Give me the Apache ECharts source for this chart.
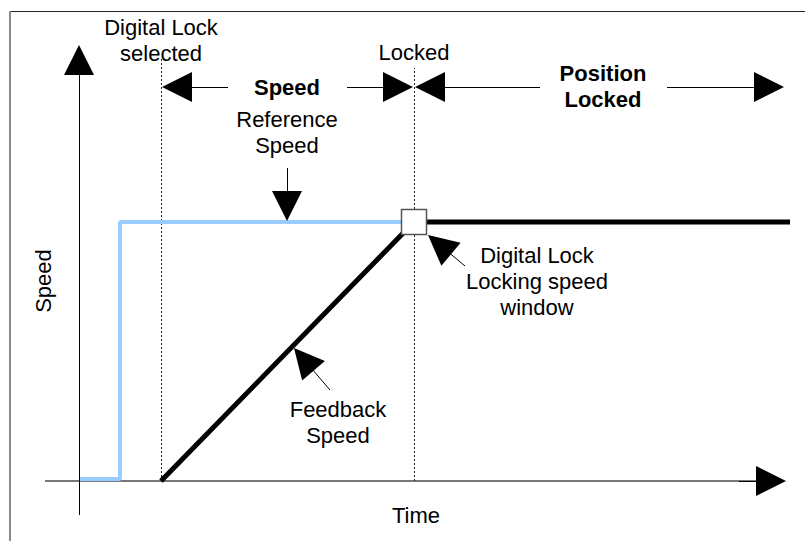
<!DOCTYPE html>
<html>
<head>
<meta charset="utf-8">
<script src="https://cdn.jsdelivr.net/npm/echarts@6/dist/echarts.min.js"></script>
<style>
html,body{margin:0;padding:0;background:#fff;}
#main{width:805px;height:541px;}
</style>
</head>
<body>
<div id="main"></div>
<script>
// units: time / speed measured from the axis origin
var refTime = [0, 41, 41, 335];
var refSpeed = [2, 2, 259, 259];
var fbTime = [82, 335, 711];
var fbSpeed = [0, 259, 259];
var lockPoint = [335, 259];
var eventTimes = [82, 335];      // digital lock selected, locked
var eventTops = [423, 413];

var notes = [
    {text: 'Digital Lock\nselected', at: [82, 441]},
    {text: 'Locked', at: [335, 429]},
    {text: 'Speed', at: [208, 394], bold: true},
    {text: 'Position\nLocked', at: [524, 395], bold: true},
    {text: 'Reference\nSpeed', at: [208, 349]},
    {text: 'Digital Lock\nLocking speed\nwindow', at: [458, 200]},
    {text: 'Feedback\nSpeed', at: [259, 59]},
    {text: 'Time', at: [337, -34]},
    {text: 'Speed', at: [-36, 200], rotate: 90}
];
// [tail, tip]
var pointers = [
    [[149, 394], [83, 394]],
    [[268, 394], [334, 394]],
    [[461, 394], [336, 394]],
    [[588, 394], [705, 394]],
    [[208, 313], [208, 260]],
    [[386, 215], [349, 246]],
    [[251, 91], [215, 133]],
    [[0, -34], [0, 436]],
    [[660, 0], [707, 0]]
];
var timeAxisLine = [[-34, 0], [677, 0]];

function zip(a, b) {
    var out = [];
    for (var i = 0; i < a.length; i++) out.push([a[i], b[i]]);
    return out;
}
// pull the line end back so the triangle tip lands on the target
function shorten(seg, len) {
    var dx = seg[1][0] - seg[0][0], dy = seg[1][1] - seg[0][1];
    var d = Math.sqrt(dx * dx + dy * dy);
    return {coords: [seg[0], [seg[1][0] - dx / d * len, seg[1][1] - dy / d * len]]};
}

var font = 'Liberation Sans, Arial, sans-serif';
var myChart = echarts.init(document.getElementById('main'), null, {renderer: 'svg'});

var noteData = notes.map(function (n) {
    return {
        value: n.at,
        name: n.text,
        label: {
            fontWeight: n.bold ? 'bold' : 'normal',
            rotate: n.rotate || 0
        }
    };
});

var option = {
    animation: false,
    backgroundColor: '#fff',
    grid: {left: 0, right: 0, top: 0, bottom: 0},
    xAxis: {type: 'value', min: -79, max: 726, show: false},
    yAxis: {type: 'value', min: -60, max: 481, show: false},
    graphic: [
        {type: 'line', shape: {x1: 10, y1: 11.5, x2: 805, y2: 11.5}, style: {stroke: '#222', lineWidth: 1}},
        {type: 'line', shape: {x1: 10, y1: 11, x2: 10, y2: 541}, style: {stroke: '#888', lineWidth: 2}}
    ],
    series: [
        {
            type: 'lines', coordinateSystem: 'cartesian2d', silent: true, z: 1,
            symbol: 'none',
            lineStyle: {color: '#777', width: 2, opacity: 1},
            data: [{coords: timeAxisLine}]
        },
        {
            type: 'lines', coordinateSystem: 'cartesian2d', silent: true, z: 2,
            symbol: 'none',
            lineStyle: {color: '#222', width: 1, type: [2, 2], opacity: 1},
            data: eventTimes.map(function (t, i) {
                return {coords: [[t, 0], [t, eventTops[i]]]};
            })
        },
        {
            type: 'line', silent: true, z: 3, symbol: 'none',
            lineStyle: {color: '#99ccff', width: 4},
            data: zip(refTime, refSpeed)
        },
        {
            type: 'line', silent: true, z: 4, symbol: 'none',
            lineStyle: {color: '#000', width: 5},
            data: zip(fbTime, fbSpeed)
        },
        {
            type: 'scatter', silent: true, z: 5,
            symbol: 'rect', symbolSize: 25,
            itemStyle: {color: '#fff', borderColor: '#555', borderWidth: 1.5, opacity: 1},
            data: [lockPoint]
        },
        {
            type: 'lines', coordinateSystem: 'cartesian2d', silent: true, z: 6,
            symbol: ['none', 'triangle'], symbolSize: [20, 30],
            lineStyle: {color: '#000', width: 1, opacity: 1},
            data: pointers.map(function (p) { return shorten(p, 15); })
        },
        {
            type: 'scatter', silent: true, z: 7,
            symbolSize: 0,
            itemStyle: {opacity: 1},
            label: {
                show: true, position: 'inside',
                formatter: function (p) { return p.name; },
                fontFamily: font, fontSize: 22, lineHeight: 26,
                color: '#000', align: 'center', verticalAlign: 'middle'
            },
            data: noteData
        }
    ]
};
myChart.setOption(option);
</script>
</body>
</html>
